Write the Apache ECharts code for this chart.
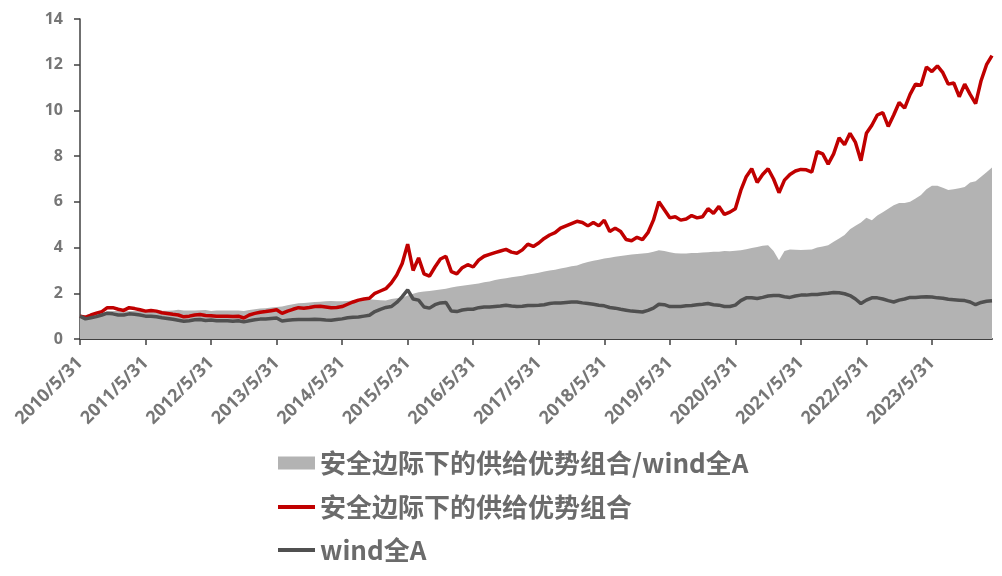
<!DOCTYPE html>
<html>
<head>
<meta charset="utf-8">
<script src="https://cdn.jsdelivr.net/npm/echarts@6/dist/echarts.min.js"></script>
<style>
html,body{margin:0;padding:0;background:#fff;}
#chart{width:1002px;height:576px;}
</style>
</head>
<body>
<div id="chart"></div>
<script>
// Month-end observations starting 2010/5/31 (168 months, to 2024/4/30)
const startYear = 2010, startMonth = 5, monthCount = 168;

const seriesNames = ['安全边际下的供给优势组合/wind全A', '安全边际下的供给优势组合', 'wind全A'];

const ratioValues = [
  1.0,1.05,1.1,1.13,1.14,1.2,1.22,1.22,1.2,1.22,1.22,1.22,1.22,
  1.25,1.26,1.24,1.24,1.25,1.28,1.25,1.25,1.25,1.26,1.27,1.23,
  1.25,1.25,1.25,1.25,1.25,1.23,1.27,1.3,1.33,1.35,1.38,1.4,
  1.42,1.48,1.52,1.56,1.57,1.6,1.62,1.63,1.65,1.66,1.65,1.65,
  1.66,1.68,1.7,1.72,1.74,1.72,1.7,1.68,1.75,1.78,1.8,1.9,
  1.98,2.05,2.08,2.1,2.13,2.17,2.2,2.25,2.3,2.33,2.36,2.4,
  2.43,2.48,2.52,2.58,2.63,2.66,2.7,2.73,2.77,2.82,2.85,2.9,
  2.95,3.0,3.03,3.08,3.13,3.18,3.22,3.3,3.37,3.42,3.47,3.52,
  3.56,3.6,3.63,3.66,3.7,3.72,3.74,3.76,3.82,3.88,3.85,3.8,
  3.75,3.74,3.74,3.76,3.76,3.78,3.8,3.82,3.82,3.85,3.84,3.86,
  3.88,3.93,3.98,4.02,4.08,4.1,3.85,3.45,3.85,3.92,3.9,3.89,
  3.9,3.92,4.0,4.05,4.1,4.25,4.4,4.55,4.8,4.95,5.1,5.3,
  5.2,5.4,5.55,5.7,5.85,5.95,5.95,6.0,6.15,6.3,6.55,6.7,
  6.7,6.62,6.52,6.55,6.6,6.65,6.85,6.9,7.1,7.3,7.5
];

const portfolioValues = [
  1.0,0.95,1.05,1.13,1.2,1.37,1.37,1.3,1.25,1.37,1.33,1.28,1.22,
  1.25,1.22,1.15,1.12,1.08,1.05,0.97,1.0,1.05,1.07,1.03,1.02,
  1.0,1.0,1.0,0.98,1.0,0.92,1.05,1.12,1.17,1.2,1.24,1.28,
  1.12,1.22,1.3,1.37,1.35,1.38,1.42,1.43,1.4,1.37,1.38,1.42,
  1.52,1.62,1.7,1.75,1.78,2.0,2.1,2.2,2.45,2.8,3.3,4.15,
  3.0,3.55,2.85,2.75,3.15,3.5,3.62,2.95,2.85,3.12,3.25,3.15,
  3.45,3.62,3.7,3.78,3.85,3.92,3.8,3.75,3.9,4.15,4.05,4.2,
  4.4,4.55,4.65,4.85,4.95,5.05,5.15,5.1,4.95,5.1,4.95,5.2,
  4.7,4.85,4.7,4.35,4.3,4.45,4.35,4.65,5.2,6.0,5.65,5.3,
  5.35,5.2,5.25,5.4,5.3,5.35,5.7,5.5,5.8,5.45,5.55,5.7,
  6.5,7.1,7.45,6.85,7.2,7.45,7.0,6.4,6.95,7.2,7.35,7.42,
  7.4,7.3,8.2,8.1,7.65,8.1,8.8,8.5,9.0,8.6,7.8,9.0,
  9.35,9.8,9.9,9.3,9.8,10.35,10.1,10.7,11.15,11.1,11.9,11.7,
  11.95,11.65,11.15,11.2,10.6,11.15,10.7,10.3,11.3,12.0,12.4
];

const windAValues = [
  1.0,0.88,0.93,0.98,1.05,1.13,1.1,1.05,1.05,1.1,1.08,1.05,1.0,
  1.0,0.97,0.93,0.9,0.86,0.82,0.78,0.8,0.84,0.85,0.81,0.83,
  0.8,0.8,0.8,0.78,0.8,0.75,0.8,0.84,0.87,0.88,0.9,0.92,
  0.79,0.82,0.84,0.85,0.85,0.85,0.86,0.85,0.83,0.82,0.85,0.88,
  0.93,0.95,0.96,1.0,1.04,1.2,1.3,1.38,1.42,1.6,1.85,2.15,
  1.75,1.7,1.4,1.35,1.5,1.58,1.6,1.22,1.2,1.27,1.3,1.3,
  1.37,1.4,1.4,1.42,1.44,1.48,1.44,1.42,1.43,1.47,1.47,1.48,
  1.5,1.55,1.58,1.58,1.6,1.62,1.62,1.58,1.55,1.52,1.48,1.45,
  1.38,1.35,1.3,1.26,1.22,1.2,1.18,1.25,1.35,1.52,1.5,1.42,
  1.42,1.42,1.45,1.47,1.5,1.52,1.55,1.5,1.48,1.42,1.42,1.48,
  1.68,1.8,1.8,1.77,1.82,1.88,1.9,1.9,1.85,1.82,1.88,1.92,
  1.92,1.95,1.95,1.98,2.0,2.03,2.02,1.98,1.9,1.75,1.55,1.7,
  1.8,1.8,1.75,1.68,1.62,1.7,1.75,1.82,1.82,1.84,1.85,1.84,
  1.8,1.78,1.74,1.72,1.7,1.68,1.62,1.5,1.6,1.65,1.67
];

const yTicks = { min: 0, max: 14, interval: 2 };

// month-end date labels
const dates = [];
for (let k = 0; k < monthCount; k++) {
  const m0 = startMonth - 1 + k;
  const y = startYear + Math.floor(m0 / 12);
  const m = (m0 % 12) + 1;
  const d = new Date(y, m, 0).getDate();
  dates.push(y + '/' + m + '/' + d);
}
const isMay = (idx, val) => /\/5\/31$/.test(val);

const FONT = '"Open Sans", "Noto Sans CJK SC", sans-serif';
const CJK = '"Noto Sans CJK SC", sans-serif';

const chart = echarts.init(document.getElementById('chart'), null, { renderer: 'canvas' });
const legendText = { fontSize: 26, fontWeight: 'bold', color: '#6b6b6b', fontFamily: CJK };
chart.setOption({
  animation: false,
  backgroundColor: '#ffffff',
  grid: { left: 80, right: 10, top: 19, bottom: 237, containLabel: false },
  legend: [
    { data: [{ name: seriesNames[0], icon: 'rect' }], left: 278, top: 450, padding: 0,
      itemWidth: 37, itemHeight: 13, itemStyle: { borderWidth: 0 }, textStyle: legendText, selectedMode: false },
    { data: [{ name: seriesNames[1], icon: 'rect' }], left: 278, top: 494, padding: 0,
      itemWidth: 37, itemHeight: 4, itemStyle: { borderWidth: 0 }, textStyle: legendText, selectedMode: false },
    { data: [{ name: seriesNames[2], icon: 'rect' }], left: 278, top: 537, padding: 0,
      itemWidth: 37, itemHeight: 4, itemStyle: { borderWidth: 0 }, textStyle: legendText, selectedMode: false }
  ],
  xAxis: {
    type: 'category',
    data: dates,
    boundaryGap: false,
    axisLine: { lineStyle: { color: '#404040', width: 2 } },
    axisTick: { show: true, interval: isMay, length: 6, lineStyle: { color: '#404040', width: 1.5 } },
    axisLabel: { interval: isMay, rotate: 45, margin: 21, color: '#767676', fontWeight: 'bold', fontSize: 18, fontFamily: FONT },
    splitLine: { show: false }
  },
  yAxis: {
    type: 'value',
    min: yTicks.min, max: yTicks.max, interval: yTicks.interval,
    axisLine: { show: true, lineStyle: { color: '#404040', width: 1.5 } },
    axisTick: { show: true, length: 6, lineStyle: { color: '#404040', width: 1.5 } },
    axisLabel: { margin: 17, color: '#767676', fontWeight: 'bold', fontSize: 16, fontFamily: FONT },
    splitLine: { show: false }
  },
  series: [
    { name: seriesNames[0], type: 'line', data: ratioValues, showSymbol: false, symbol: 'none',
      lineStyle: { width: 0 }, itemStyle: { color: '#b3b3b3' },
      areaStyle: { color: '#b3b3b3', opacity: 1 }, z: 1 },
    { name: seriesNames[1], type: 'line', data: portfolioValues, showSymbol: false, symbol: 'none',
      lineStyle: { width: 3.5, color: '#c00000' }, itemStyle: { color: '#c00000' }, z: 3 },
    { name: seriesNames[2], type: 'line', data: windAValues, showSymbol: false, symbol: 'none',
      lineStyle: { width: 3.5, color: '#505050' }, itemStyle: { color: '#505050' }, z: 4 }
  ]
});
</script>
</body>
</html>
